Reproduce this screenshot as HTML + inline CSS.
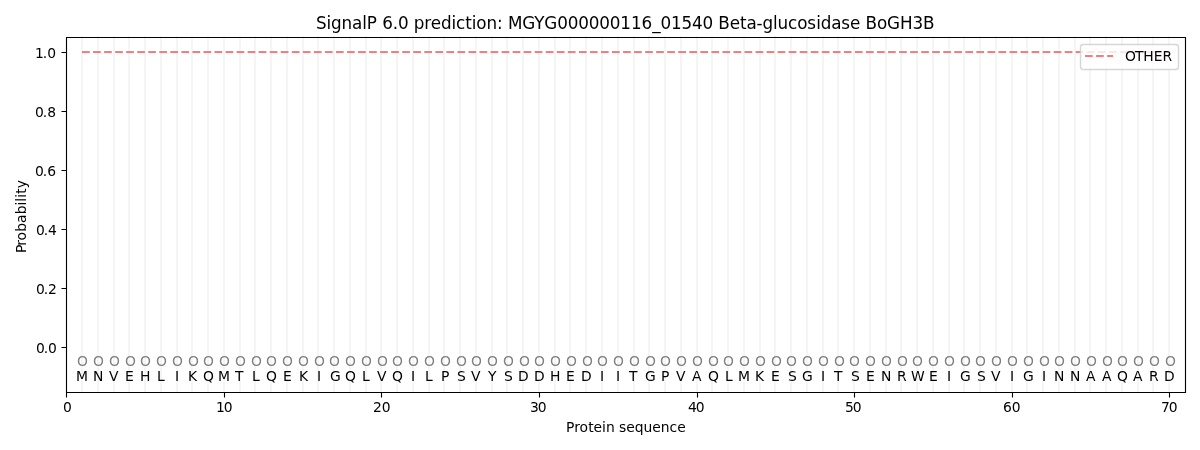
<!DOCTYPE html>
<html><head><meta charset="utf-8"><title>SignalP 6.0 prediction</title>
<style>
html,body{margin:0;padding:0;background:#fff;width:1200px;height:450px;overflow:hidden}
svg{display:block;will-change:transform}
text{font-family:"DejaVu Sans","Liberation Sans",sans-serif;font-size:13.8889px}

</style></head><body>
<svg width="1200" height="450" viewBox="0 0 1200 450">
<rect width="1200" height="450" fill="#fff"/>
<path d="M82 35.958V393.042M98 35.958V393.042M114 35.958V393.042M129 35.958V393.042M145 35.958V393.042M161 35.958V393.042M177 35.958V393.042M192 35.958V393.042M208 35.958V393.042M224 35.958V393.042M240 35.958V393.042M255 35.958V393.042M271 35.958V393.042M287 35.958V393.042M303 35.958V393.042M318 35.958V393.042M334 35.958V393.042M350 35.958V393.042M366 35.958V393.042M381 35.958V393.042M397 35.958V393.042M413 35.958V393.042M429 35.958V393.042M444 35.958V393.042M460 35.958V393.042M476 35.958V393.042M492 35.958V393.042M507 35.958V393.042M523 35.958V393.042M539 35.958V393.042M555 35.958V393.042M570 35.958V393.042M586 35.958V393.042M602 35.958V393.042M618 35.958V393.042M634 35.958V393.042M649 35.958V393.042M665 35.958V393.042M681 35.958V393.042M697 35.958V393.042M712 35.958V393.042M728 35.958V393.042M744 35.958V393.042M760 35.958V393.042M775 35.958V393.042M791 35.958V393.042M807 35.958V393.042M823 35.958V393.042M838 35.958V393.042M854 35.958V393.042M870 35.958V393.042M886 35.958V393.042M901 35.958V393.042M917 35.958V393.042M933 35.958V393.042M949 35.958V393.042M964 35.958V393.042M980 35.958V393.042M996 35.958V393.042M1012 35.958V393.042M1027 35.958V393.042M1043 35.958V393.042M1059 35.958V393.042M1075 35.958V393.042M1090 35.958V393.042M1106 35.958V393.042M1122 35.958V393.042M1138 35.958V393.042M1153 35.958V393.042M1169 35.958V393.042" stroke="#f5f5f5" stroke-width="2.0833" fill="none"/>
<path d="M82 52H1169" stroke="#f08080" stroke-width="2.0833" stroke-dasharray="7.7083 3.3333" fill="none"/>
<path d="M66.5 392.5V37.5M1185.5 392.5V37.5M66.5 392.5H1185.5M66.5 37.5H1185.5" stroke="#000" stroke-width="1.1111" stroke-linecap="square" fill="none"/>
<path d="M66.5 392.5V397.5M224.5 392.5V397.5M381.5 392.5V397.5M539.5 392.5V397.5M697.5 392.5V397.5M854.5 392.5V397.5M1012.5 392.5V397.5M1169.5 392.5V397.5M66.5 347.5H61.5M66.5 288.5H61.5M66.5 229.5H61.5M66.5 170.5H61.5M66.5 111.5H61.5M66.5 52.5H61.5" stroke="#000" stroke-width="1.1111" fill="none"/>
<text x="62.9" y="412.44">0</text>
<text y="412.44"><tspan x="216.03">1</tspan><tspan x="223.66">0</tspan></text>
<text y="412.44"><tspan x="372.91">2</tspan><tspan x="381.66">0</tspan></text>
<text y="412.44"><tspan x="529.98">3</tspan><tspan x="537.73">0</tspan></text>
<text y="412.44"><tspan x="688.04">4</tspan><tspan x="695.79">0</tspan></text>
<text y="412.44"><tspan x="845.11">5</tspan><tspan x="852.86">0</tspan></text>
<text y="412.44"><tspan x="1003.11">6</tspan><tspan x="1011.74">0</tspan></text>
<text y="412.44"><tspan x="1160.99">7</tspan><tspan x="1168.74">0</tspan></text>
<text y="432"><tspan x="566.01">P</tspan><tspan x="574.14">r</tspan><tspan x="579.39">o</tspan><tspan x="588.14">t</tspan><tspan x="593.39">e</tspan><tspan x="601.89">i</tspan><tspan x="606.01">n </tspan><tspan x="618.89">s</tspan><tspan x="626.26">e</tspan><tspan x="634.76">q</tspan><tspan x="643.39">u</tspan><tspan x="652.14">e</tspan><tspan x="660.64">n</tspan><tspan x="669.39">c</tspan><tspan x="677.26">e</tspan></text>
<text y="352.92"><tspan x="35.93">0</tspan><tspan x="43.68">.</tspan><tspan x="48.06">0</tspan></text>
<text y="293.86"><tspan x="35.93">0</tspan><tspan x="43.68">.</tspan><tspan x="48.06">2</tspan></text>
<text y="234.79"><tspan x="35.93">0</tspan><tspan x="43.68">.</tspan><tspan x="48.06">4</tspan></text>
<text y="175.73"><tspan x="35.06">0</tspan><tspan x="42.81">.</tspan><tspan x="47.18">6</tspan></text>
<text y="116.66"><tspan x="35.06">0</tspan><tspan x="42.81">.</tspan><tspan x="47.18">8</tspan></text>
<text y="57.6"><tspan x="35.06">1</tspan><tspan x="42.68">.</tspan><tspan x="47.31">0</tspan></text>
<text transform="translate(25.5 253.97) rotate(-90)" y="0"><tspan x="1">P</tspan><tspan x="8.12">r</tspan><tspan x="13.38">o</tspan><tspan x="22.12">b</tspan><tspan x="31">a</tspan><tspan x="39.62">b</tspan><tspan x="48.5">i</tspan><tspan x="52.12">l</tspan><tspan x="56.25">i</tspan><tspan x="60.12">t</tspan><tspan x="65.62">y</tspan></text>
<text fill="#808080" x="77.1" y="366.19">O</text>
<text x="76.03" y="380.96">M</text>
<text fill="#808080" x="93.1" y="366.19">O</text>
<text x="93.1" y="380.96">N</text>
<text fill="#808080" x="109.11" y="366.19">O</text>
<text x="109.05" y="380.96">V</text>
<text fill="#808080" x="125.12" y="366.19">O</text>
<text x="124.93" y="380.96">E</text>
<text fill="#808080" x="140.12" y="366.19">O</text>
<text x="140.12" y="380.96">H</text>
<text fill="#808080" x="155.88" y="366.19">O</text>
<text x="156.94" y="380.96">L</text>
<text fill="#808080" x="171.89" y="366.19">O</text>
<text x="175.07" y="380.96">I</text>
<text fill="#808080" x="187.89" y="366.19">O</text>
<text x="188.08" y="380.96">K</text>
<text fill="#808080" x="202.9" y="366.19">O</text>
<text x="202.9" y="380.96">Q</text>
<text fill="#808080" x="218.91" y="366.19">O</text>
<text x="218.09" y="380.96">M</text>
<text fill="#808080" x="234.91" y="366.19">O</text>
<text x="235.1" y="380.96">T</text>
<text fill="#808080" x="250.92" y="366.19">O</text>
<text x="251.98" y="380.96">L</text>
<text fill="#808080" x="265.93" y="366.19">O</text>
<text x="265.93" y="380.96">Q</text>
<text fill="#808080" x="281.93" y="366.19">O</text>
<text x="283" y="380.96">E</text>
<text fill="#808080" x="297.94" y="366.19">O</text>
<text x="298.88" y="380.96">K</text>
<text fill="#808080" x="313.95" y="366.19">O</text>
<text x="316.88" y="380.96">I</text>
<text fill="#808080" x="328.95" y="366.19">O</text>
<text x="330.02" y="380.96">G</text>
<text fill="#808080" x="344.96" y="366.19">O</text>
<text x="344.96" y="380.96">Q</text>
<text fill="#808080" x="360.97" y="366.19">O</text>
<text x="362.03" y="380.96">L</text>
<text fill="#808080" x="376.97" y="366.19">O</text>
<text x="376.91" y="380.96">V</text>
<text fill="#808080" x="391.98" y="366.19">O</text>
<text x="391.98" y="380.96">Q</text>
<text fill="#808080" x="407.99" y="366.19">O</text>
<text x="410.92" y="380.96">I</text>
<text fill="#808080" x="423.99" y="366.19">O</text>
<text x="425.06" y="380.96">L</text>
<text fill="#808080" x="440" y="366.19">O</text>
<text x="441" y="380.96">P</text>
<text fill="#808080" x="456.01" y="366.19">O</text>
<text x="457.07" y="380.96">S</text>
<text fill="#808080" x="471.01" y="366.19">O</text>
<text x="470.95" y="380.96">V</text>
<text fill="#808080" x="487.02" y="366.19">O</text>
<text x="488.02" y="380.96">Y</text>
<text fill="#808080" x="503.03" y="366.19">O</text>
<text x="504.09" y="380.96">S</text>
<text fill="#808080" x="519.03" y="366.19">O</text>
<text x="518.1" y="380.96">D</text>
<text fill="#808080" x="534.04" y="366.19">O</text>
<text x="534.1" y="380.96">D</text>
<text fill="#808080" x="550.05" y="366.19">O</text>
<text x="550.05" y="380.96">H</text>
<text fill="#808080" x="566.05" y="366.19">O</text>
<text x="566.12" y="380.96">E</text>
<text fill="#808080" x="582.06" y="366.19">O</text>
<text x="581.12" y="380.96">D</text>
<text fill="#808080" x="597.07" y="366.19">O</text>
<text x="600" y="380.96">I</text>
<text fill="#808080" x="613.07" y="366.19">O</text>
<text x="616.01" y="380.96">I</text>
<text fill="#808080" x="629.08" y="366.19">O</text>
<text x="629.02" y="380.96">T</text>
<text fill="#808080" x="645.09" y="366.19">O</text>
<text x="644.9" y="380.96">G</text>
<text fill="#808080" x="660.09" y="366.19">O</text>
<text x="661.09" y="380.96">P</text>
<text fill="#808080" x="676.1" y="366.19">O</text>
<text x="676.04" y="380.96">V</text>
<text fill="#808080" x="692.11" y="366.19">O</text>
<text x="692.04" y="380.96">A</text>
<text fill="#808080" x="708.11" y="366.19">O</text>
<text x="708.11" y="380.96">Q</text>
<text fill="#808080" x="723.12" y="366.19">O</text>
<text x="724.93" y="380.96">L</text>
<text fill="#808080" x="738.88" y="366.19">O</text>
<text x="738.06" y="380.96">M</text>
<text fill="#808080" x="754.88" y="366.19">O</text>
<text x="755.07" y="380.96">K</text>
<text fill="#808080" x="770.89" y="366.19">O</text>
<text x="770.95" y="380.96">E</text>
<text fill="#808080" x="785.9" y="366.19">O</text>
<text x="787.96" y="380.96">S</text>
<text fill="#808080" x="801.9" y="366.19">O</text>
<text x="801.97" y="380.96">G</text>
<text fill="#808080" x="817.91" y="366.19">O</text>
<text x="821.1" y="380.96">I</text>
<text fill="#808080" x="833.92" y="366.19">O</text>
<text x="834.1" y="380.96">T</text>
<text fill="#808080" x="848.92" y="366.19">O</text>
<text x="850.99" y="380.96">S</text>
<text fill="#808080" x="864.93" y="366.19">O</text>
<text x="865.99" y="380.96">E</text>
<text fill="#808080" x="880.94" y="366.19">O</text>
<text x="880.94" y="380.96">N</text>
<text fill="#808080" x="896.94" y="366.19">O</text>
<text x="897.07" y="380.96">R</text>
<text fill="#808080" x="911.95" y="366.19">O</text>
<text x="911.01" y="380.96">W</text>
<text fill="#808080" x="927.96" y="366.19">O</text>
<text x="929.02" y="380.96">E</text>
<text fill="#808080" x="943.96" y="366.19">O</text>
<text x="946.9" y="380.96">I</text>
<text fill="#808080" x="959.97" y="366.19">O</text>
<text x="960.03" y="380.96">G</text>
<text fill="#808080" x="974.98" y="366.19">O</text>
<text x="977.04" y="380.96">S</text>
<text fill="#808080" x="990.98" y="366.19">O</text>
<text x="990.92" y="380.96">V</text>
<text fill="#808080" x="1006.99" y="366.19">O</text>
<text x="1009.93" y="380.96">I</text>
<text fill="#808080" x="1023" y="366.19">O</text>
<text x="1023.06" y="380.96">G</text>
<text fill="#808080" x="1039" y="366.19">O</text>
<text x="1041.94" y="380.96">I</text>
<text fill="#808080" x="1054.01" y="366.19">O</text>
<text x="1054.01" y="380.96">N</text>
<text fill="#808080" x="1070.02" y="366.19">O</text>
<text x="1070.02" y="380.96">N</text>
<text fill="#808080" x="1086.02" y="366.19">O</text>
<text x="1085.96" y="380.96">A</text>
<text fill="#808080" x="1102.03" y="366.19">O</text>
<text x="1101.97" y="380.96">A</text>
<text fill="#808080" x="1117.04" y="366.19">O</text>
<text x="1117.04" y="380.96">Q</text>
<text fill="#808080" x="1133.04" y="366.19">O</text>
<text x="1132.98" y="380.96">A</text>
<text fill="#808080" x="1149.05" y="366.19">O</text>
<text x="1148.92" y="380.96">R</text>
<text fill="#808080" x="1165.06" y="366.19">O</text>
<text x="1164.12" y="380.96">D</text>
<text style="font-size:16.8000px" y="29"><tspan x="315.89">S</tspan><tspan x="326.39">i</tspan><tspan x="331.01">g</tspan><tspan x="341.51">n</tspan><tspan x="352.01">a</tspan><tspan x="362.14">l</tspan><tspan x="366.76">P </tspan><tspan x="382.14">6</tspan><tspan x="392.64">.</tspan><tspan x="397.89">0 </tspan><tspan x="413.64">p</tspan><tspan x="424.14">r</tspan><tspan x="430.64">e</tspan><tspan x="440.89">d</tspan><tspan x="451.39">i</tspan><tspan x="456.01">c</tspan><tspan x="465.14">t</tspan><tspan x="471.64">i</tspan><tspan x="476.26">o</tspan><tspan x="486.39">n</tspan><tspan x="496.89">: </tspan><tspan x="507.89">M</tspan><tspan x="522.26">G</tspan><tspan x="534.26">Y</tspan><tspan x="544.14">G</tspan><tspan x="557.26">0</tspan><tspan x="567.76">0</tspan><tspan x="578.26">0</tspan><tspan x="588.76">0</tspan><tspan x="599.26">0</tspan><tspan x="609.76">0</tspan><tspan x="620.26">1</tspan><tspan x="630.89">1</tspan><tspan x="641.51">6</tspan><tspan x="652.26">_</tspan><tspan x="660.39">0</tspan><tspan x="670.89">1</tspan><tspan x="681.51">5</tspan><tspan x="692.01">4</tspan><tspan x="702.51">0 </tspan><tspan x="718.26">B</tspan><tspan x="729.64">e</tspan><tspan x="739.89">t</tspan><tspan x="746.39">a</tspan><tspan x="756.51">-</tspan><tspan x="762.39">g</tspan><tspan x="772.89">l</tspan><tspan x="777.51">u</tspan><tspan x="788.01">c</tspan><tspan x="797.14">o</tspan><tspan x="807.26">s</tspan><tspan x="816.26">i</tspan><tspan x="820.64">d</tspan><tspan x="831.14">a</tspan><tspan x="841.26">s</tspan><tspan x="850.01">e </tspan><tspan x="865.51">B</tspan><tspan x="876.89">o</tspan><tspan x="887.01">G</tspan><tspan x="899.89">H</tspan><tspan x="912.39">3</tspan><tspan x="923.01">B</tspan></text>
<rect x="1080.5" y="44.5" width="98.0" height="25.0" rx="2.7778" fill="#fff" fill-opacity="0.8" stroke="#ccc" stroke-opacity="0.8" stroke-width="1.3889"/>
<path d="M1085 56H1113" stroke="#f08080" stroke-width="2.0833" stroke-dasharray="7.7083 3.3333" fill="none"/>
<text y="60.83"><tspan x="1124.88">O</tspan><tspan x="1135">T</tspan><tspan x="1143.25">H</tspan><tspan x="1153.63">E</tspan><tspan x="1162.38">R</tspan></text>
</svg>
</body></html>
